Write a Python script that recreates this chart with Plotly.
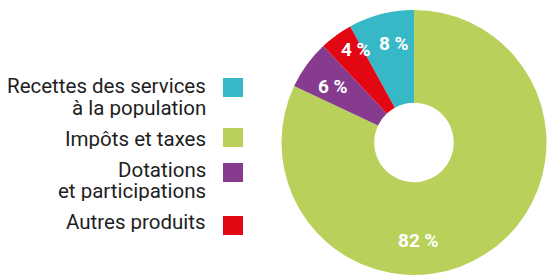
import plotly.graph_objects as go

W, H = 547, 275

# Data
categories = ["Recettes des services à la population", "Impôts et taxes",
              "Dotations et participations", "Autres produits"]
values = [8, 82, 6, 4]
value_labels = ["8 %", "82 %", "6 %", "4 %"]
legend_lines = [["Recettes des services", "à la population"],
                ["Impôts et taxes"],
                ["Dotations", "et participations"],
                ["Autres produits"]]
colors = ["#37B8C6", "#B9D15B", "#873B8E", "#E30613"]

FONT = "Roboto"

def px(x, y):
    return x / W, 1 - y / H

fig = go.Figure()
total = sum(values)
cx, cy, R = 414, 142.5, 132.5
dx0, dy1 = px(cx - R, cy - R)
dx1, dy0 = px(cx + R, min(cy + R, H))
fig.add_trace(go.Pie(
    labels=categories, values=values, sort=False, direction="clockwise",
    rotation=-360 * values[0] / total,
    hole=0.3, marker=dict(colors=colors, line=dict(width=0)),
    textinfo="none", hoverinfo="label+percent", showlegend=False,
    domain=dict(x=[dx0, dx1], y=[max(dy0, 0), dy1]),
))

# value labels (pixel positions of label centres)
label_pos = [(394, 43), (418, 240), (333, 86), (356, 49)]
for txt, (lx, ly) in zip(value_labels, label_pos):
    x, y = px(lx, ly)
    fig.add_annotation(x=x, y=y, xref="paper", yref="paper", text=txt,
                       showarrow=False, xanchor="center", yanchor="middle",
                       font=dict(family=FONT, size=19, color="white", weight="bold"))

# custom legend: right-aligned text, square on the right
baselines = [[93, 115], [146], [177, 198], [229]]
square_tops = [78, 128, 163, 216]
for lines, bls, col, st in zip(legend_lines, baselines, colors, square_tops):
    for line, bl in zip(lines, bls):
        x, y = px(208, bl - 7)
        fig.add_annotation(x=x, y=y, xref="paper", yref="paper", text=line,
                           showarrow=False, xanchor="right", yanchor="middle",
                           height=20,
                           font=dict(family=FONT, size=20.5, color="#1E1E1E"))
    x0, y0 = px(223, st)
    x1, y1 = px(243, st + 19)
    fig.add_shape(type="rect", xref="paper", yref="paper", x0=x0, y0=y1, x1=x1, y1=y0,
                  fillcolor=col, line=dict(width=0))

fig.update_layout(width=W, height=H, margin=dict(l=0, r=0, t=0, b=0),
                  paper_bgcolor="white", plot_bgcolor="white")
fig.write_html("out.html", config={"displayModeBar": False},
               post_script="document.body.style.margin='0';")
